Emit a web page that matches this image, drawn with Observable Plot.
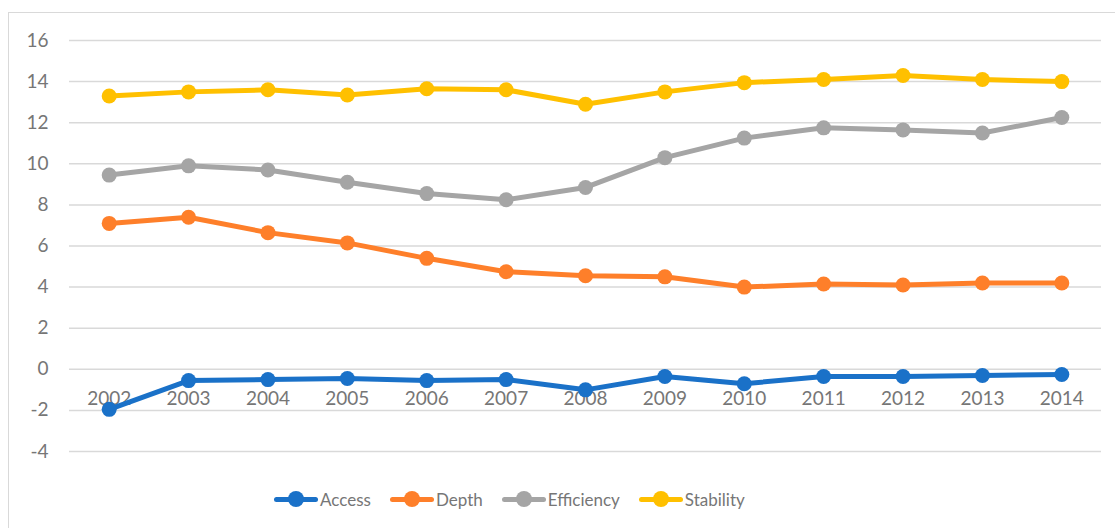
<!DOCTYPE html>
<html>
<head>
<meta charset="utf-8">
<script src="https://cdn.jsdelivr.net/npm/d3@7"></script>
<script src="https://cdn.jsdelivr.net/npm/@observablehq/plot@0.6"></script>
<style>
  body { margin: 0; background: #fff; font-family: Lato, "Open Sans", sans-serif; }
  #wrap { position: relative; width: 1115px; height: 528px; overflow: hidden; }
  #border { position: absolute; left: 8px; top: 12px; width: 1200px; height: 600px; border: 1.5px solid #d9d9d9; box-sizing: border-box; }
  #chart { position: absolute; left: 0; top: 0; }
  #legend { position: absolute; left: 274px; top: 470px; height: 58px; display: flex; align-items: center; font-size: 17px; color: #767676; }
  .item { display: flex; align-items: center; }
  .swatch { position: relative; width: 44px; height: 16px; margin-right: 2px; }
  .swatch .ln { position: absolute; left: 0; right: 0; top: 5.5px; height: 5px; border-radius: 3px; }
  .swatch .dt { position: absolute; left: 14px; top: 0; width: 16px; height: 16px; border-radius: 50%; }
</style>
</head>
<body>
<div id="wrap">
  <div id="border"></div>
  <div id="chart"></div>
  <div id="legend"></div>
</div>
<script>
const years = [2002, 2003, 2004, 2005, 2006, 2007, 2008, 2009, 2010, 2011, 2012, 2013, 2014];
const access     = [-1.95, -0.55, -0.5, -0.45, -0.55, -0.5, -1.0, -0.35, -0.7, -0.35, -0.35, -0.3, -0.25];
const depth      = [7.1, 7.4, 6.65, 6.15, 5.4, 4.75, 4.55, 4.5, 4.0, 4.15, 4.1, 4.2, 4.2];
const efficiency = [9.45, 9.9, 9.7, 9.1, 8.55, 8.25, 8.85, 10.3, 11.25, 11.75, 11.65, 11.5, 12.25];
const stability  = [13.3, 13.5, 13.6, 13.35, 13.65, 13.6, 12.9, 13.5, 13.95, 14.1, 14.3, 14.1, 14.0];
const seriesNames = ["Access", "Depth", "Efficiency", "Stability"];
const seriesColors = ["#1a71c8", "#fe7f2a", "#a5a5a5", "#ffc000"];
const yTicks = [-4, -2, 0, 2, 4, 6, 8, 10, 12, 14, 16];

const seriesValues = [access, depth, efficiency, stability];
const data = seriesNames.flatMap((name, i) =>
  years.map((yr, j) => ({ series: name, year: yr, value: seriesValues[i][j] })));

const plot = Plot.plot({
  width: 1115,
  height: 470,
  marginLeft: 69,
  marginRight: 14,
  marginTop: 40,
  marginBottom: 19,
  style: { fontFamily: "Lato, 'Open Sans', sans-serif", fontSize: "19px", color: "#767676", background: "transparent" },
  x: { domain: [2001.5, 2014.5], axis: null },
  y: { domain: [-4, 16], ticks: yTicks, tickSize: 0, tickPadding: 21, label: null, tickFormat: d => d < 0 ? "-" + Math.abs(d) : String(d) },
  color: { domain: seriesNames, range: seriesColors },
  marks: [
    Plot.ruleY(yTicks, { stroke: "#d9d9d9", strokeWidth: 1.5 }),
    Plot.text(years, { x: d => d, y: () => 0, text: d => String(d), dy: 30, fill: "#767676", fontSize: 19 }),
    Plot.line(data, { x: "year", y: "value", z: "series", stroke: "series", strokeWidth: 5, strokeLinejoin: "round", strokeLinecap: "round" }),
    Plot.dot(data, { x: "year", y: "value", fill: "series", r: 7.5, stroke: "none" })
  ]
});
document.getElementById("chart").appendChild(plot);

const legend = document.getElementById("legend");
seriesNames.forEach((name, i) => {
  const item = document.createElement("div");
  item.className = "item";
  item.style.marginRight = i < seriesNames.length - 1 ? "19px" : "0";
  item.innerHTML = `<div class="swatch"><div class="ln" style="background:${seriesColors[i]}"></div><div class="dt" style="background:${seriesColors[i]}"></div></div><span>${name}</span>`;
  legend.appendChild(item);
});
</script>
</body>
</html>
